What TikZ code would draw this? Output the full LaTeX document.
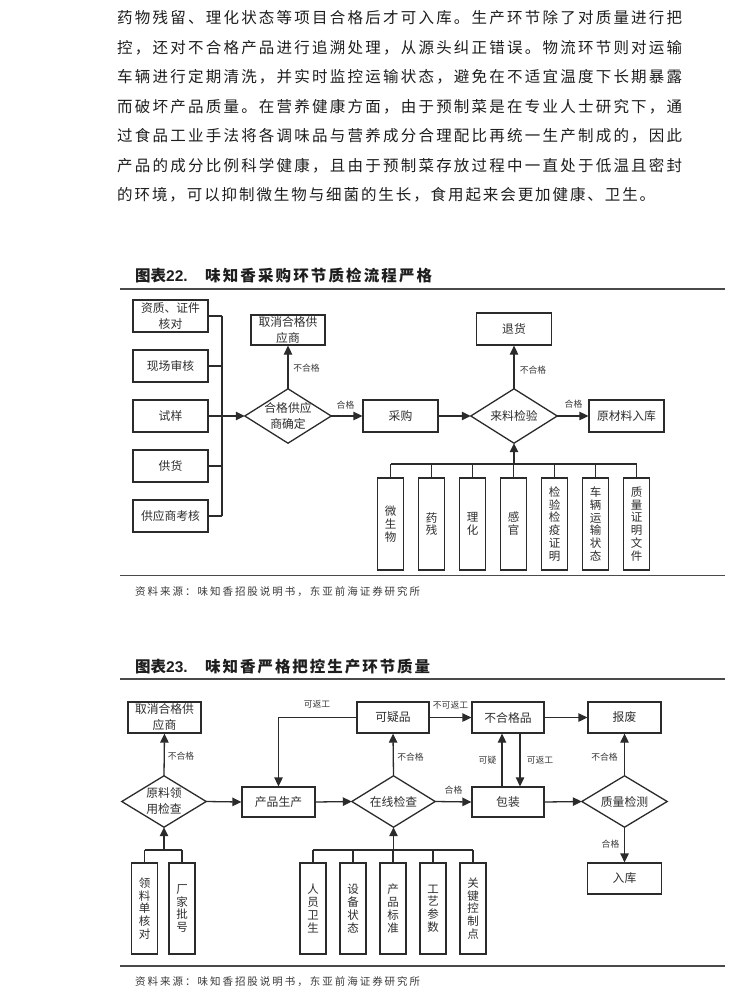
\documentclass[tikz,border=0pt]{standalone}
\usepackage{fontspec}
\setmainfont{Liberation Serif}
\newfontfamily\cjk{Noto Sans CJK SC}
\newfontfamily\latsans{Liberation Sans}
\usetikzlibrary{arrows.meta,calc}
\definecolor{lc}{HTML}{2B2B2B}
\definecolor{tc}{HTML}{2E2E2E}
\definecolor{labc}{HTML}{3A3A3A}
\definecolor{bodyc}{HTML}{1E1E1E}
\definecolor{rulec}{HTML}{4A4A4A}
\makeatletter
\def\spr@a#1{\ifx#1\relax\else\hfil#1\expandafter\spr@a\fi}
\def\spr@b#1{#1\spr@a}
\newcommand\spreadline[2]{\makebox[#1][s]{\spr@b#2\relax}}
\makeatother
\newcommand\mybodyfont{\cjk\fontsize{15.5}{18}\selectfont}
\newcommand\mytitlefont{\cjk\bfseries\fontsize{15.5}{18}\selectfont}
\newcommand\myboxfont{\cjk\fontsize{11.8}{16}\selectfont}
\newcommand\myvfont{\cjk\fontsize{11.5}{12.8}\selectfont}
\newcommand\mylabfont{\cjk\fontsize{8.8}{10}\selectfont}
\newcommand\mysrcfont{\cjk\fontsize{10.5}{12}\selectfont}
\tikzset{
  body/.style={inner sep=0pt, font=\mybodyfont, text=bodyc, anchor=west},
  box/.style={draw=lc, line width=1.3pt, fill=white, inner sep=0pt, font=\myboxfont, text=tc, align=center},
  vbox/.style={box, minimum width=26pt, minimum height=92pt, font=\myvfont},
  dtext/.style={inner sep=0pt, font=\myboxfont, text=tc, align=center},
  lab/.style={font=\mylabfont, text=labc, inner sep=0pt},
  ln/.style={draw=lc, line width=1.3pt},
  arr/.style={draw=lc, line width=1.3pt, -{Triangle[length=9pt,width=8.5pt]}},
  rulethick/.style={draw=rulec, line width=2pt},
  src/.style={inner sep=0pt, font=\mysrcfont, text=labc, anchor=west},
}
\begin{document}
\begin{tikzpicture}[x=1pt,y=-1pt]
\useasboundingbox (0,0) rectangle (751,1000);
\fill[white] (0,0) rectangle (751,1000);

% body text
\node[body] (t1) at (117,18) {\spreadline{565pt}{药物残留、理化状态等项目合格后才可入库。生产环节除了对质量进行把}};
\node[body] (t2) at (117,47.5) {\spreadline{565pt}{控，还对不合格产品进行追溯处理，从源头纠正错误。物流环节则对运输}};
\node[body] (t3) at (117,77) {\spreadline{565pt}{车辆进行定期清洗，并实时监控运输状态，避免在不适宜温度下长期暴露}};
\node[body] (t4) at (117,106.5) {\spreadline{565pt}{而破坏产品质量。在营养健康方面，由于预制菜是在专业人士研究下，通}};
\node[body] (t5) at (117,136) {\spreadline{565pt}{过食品工业手法将各调味品与营养成分合理配比再统一生产制成的，因此}};
\node[body] (t6) at (117,165.5) {\spreadline{565pt}{产品的成分比例科学健康，且由于预制菜存放过程中一直处于低温且密封}};
\node[body] (t7) at (117,195) {\spreadline{538pt}{的环境，可以抑制微生物与细菌的生长，食用起来会更加健康、卫生。}};

% ---------------- Figure 22 ----------------
\node[inner sep=0pt, anchor=west, text=bodyc] (ti22a) at (135,276) {\mytitlefont 图表{\latsans\bfseries\fontsize{15.5}{18}\selectfont 22.}};
\node[inner sep=0pt, anchor=west, text=bodyc] (ti22b) at (205,276) {\mytitlefont\spreadline{227pt}{味知香采购环节质检流程严格}};
\draw[rulethick] (120,288.5) -- (725,288.5);

\node[box, minimum width=75pt, minimum height=32pt] (b1) at (170.5,316) {资质、证件\\核对};
\node[box, minimum width=75pt, minimum height=32pt] (b2) at (170.5,366) {现场审核};
\node[box, minimum width=75pt, minimum height=32pt] (b3) at (170.5,416) {试样};
\node[box, minimum width=75pt, minimum height=32pt] (b4) at (170.5,466) {供货};
\node[box, minimum width=75pt, minimum height=32pt] (b5) at (170.5,516) {供应商考核};
\coordinate (bus) at (222,416);
\foreach \b in {b1,b2,b3,b4,b5} { \draw[ln] (\b.east) -- (\b.east -| bus); }
\draw[ln] (b1.east -| bus) -- (b5.east -| bus);

\node[dtext, minimum width=86pt, minimum height=54pt] (d1) at (288,416) {合格供应\\商确定};
\draw[ln] (d1.north) -- (d1.east) -- (d1.south) -- (d1.west) -- cycle;
\draw[arr] (bus) -- (d1.west);

\node[box, minimum width=74pt, minimum height=30pt] (c1) at (288,330) {取消合格供\\应商};
\draw[arr] (d1.north) -- (c1.south);
\node[lab] (l1) at (306.5,368) {不合格};

\node[box, minimum width=75pt, minimum height=32pt] (cg) at (400.5,416) {采购};
\draw[arr] (d1.east) -- (cg.west);
\node[lab] (l2) at (345.5,405) {合格};

\node[dtext, minimum width=86pt, minimum height=54pt] (d2) at (514,416) {来料检验};
\draw[ln] (d2.north) -- (d2.east) -- (d2.south) -- (d2.west) -- cycle;
\draw[arr] (cg.east) -- (d2.west);

\node[box, minimum width=75pt, minimum height=32pt] (th) at (514,329) {退货};
\draw[arr] (d2.north) -- (th.south);
\node[lab] (l3) at (533,370) {不合格};

\node[box, minimum width=75pt, minimum height=32pt] (yc) at (626.5,416) {原材料入库};
\draw[arr] (d2.east) -- (yc.west);
\node[lab] (l4) at (573.5,404) {合格};

\node[vbox] (m1) at (390.5,524) {微\\生\\物};
\node[vbox] (m2) at (431.5,524) {药\\残};
\node[vbox] (m3) at (472.5,524) {理\\化};
\node[vbox] (m4) at (513.5,524) {感\\官};
\node[vbox] (m5) at (554.5,524) {检\\验\\检\\疫\\证\\明};
\node[vbox] (m6) at (595.5,524) {车\\辆\\运\\输\\状\\态};
\node[vbox] (m7) at (636.5,524) {质\\量\\证\\明\\文\\件};
\coordinate (bus2) at (514,464);
\foreach \m in {m1,m2,m3,m4,m5,m6,m7} { \draw[ln] (\m.north) -- (\m.north |- bus2); }
\draw[ln] (m1.north |- bus2) -- (m7.north |- bus2);
\draw[arr] (bus2) -- (d2.south);

\draw[rulethick, line width=1.6pt] (120,575.5) -- (725,575.5);
\node[src] (s22) at (135,592) {\spreadline{285pt}{资料来源：味知香招股说明书，东亚前海证券研究所}};

% ---------------- Figure 23 ----------------
\node[inner sep=0pt, anchor=west, text=bodyc] (ti23a) at (135,667) {\mytitlefont 图表{\latsans\bfseries\fontsize{15.5}{18}\selectfont 23.}};
\node[inner sep=0pt, anchor=west, text=bodyc] (ti23b) at (205,667) {\mytitlefont\spreadline{225pt}{味知香严格把控生产环节质量}};
\draw[rulethick] (120,679) -- (725,679);

\node[box, minimum width=73pt, minimum height=31pt] (f1) at (164.5,717.5) {取消合格供\\应商};
\node[dtext, minimum width=84pt, minimum height=51pt] (e1) at (164,801.5) {原料领\\用检查};
\draw[ln] (e1.north) -- (e1.east) -- (e1.south) -- (e1.west) -- cycle;
\draw[arr] (e1.north) -- (f1.south);
\node[lab] (k1) at (181,756) {不合格};

\node[box, minimum width=73pt, minimum height=30pt] (p1) at (278.5,802) {产品生产};
\draw[arr] (e1.east) -- (p1.west);

\node[dtext, minimum width=83pt, minimum height=51pt] (e2) at (393.5,801.5) {在线检查};
\draw[ln] (e2.north) -- (e2.east) -- (e2.south) -- (e2.west) -- cycle;
\draw[arr] (p1.east) -- (e2.west);

\node[box, minimum width=72pt, minimum height=31pt] (q1) at (393,717.5) {可疑品};
\draw[arr] (e2.north) -- (q1.south);
\node[lab] (k2) at (410.5,757) {不合格};
\draw[arr] (q1.west) -- (p1.north |- q1.west) -- (p1.north);
\node[lab] (k3) at (317,704) {可返工};

\node[box, minimum width=72pt, minimum height=31pt] (n1) at (508,717.5) {不合格品};
\draw[arr] (q1.east) -- (n1.west);
\node[lab] (k4) at (450.5,705) {不可返工};

\node[box, minimum width=73pt, minimum height=31pt] (s1) at (624.5,717.5) {报废};
\draw[arr] (n1.east) -- (s1.west);

\node[box, minimum width=72pt, minimum height=30pt] (bz) at (508,802) {包装};
\draw[arr] (e2.east) -- (bz.west);
\node[lab] (k5) at (453.5,790) {合格};
\draw[arr] ($(bz.north)+(-6,0)$) -- ($(n1.south)+(-6,0)$);
\node[lab] (k6) at (487.5,760) {可疑};
\draw[arr] ($(n1.south)+(12,0)$) -- ($(bz.north)+(12,0)$);
\node[lab] (k7) at (540,760) {可返工};

\node[dtext, minimum width=85pt, minimum height=51pt] (e3) at (624.5,801.5) {质量检测};
\draw[ln] (e3.north) -- (e3.east) -- (e3.south) -- (e3.west) -- cycle;
\draw[arr] (bz.east) -- (e3.west);
\draw[arr] (e3.north) -- (s1.south);
\node[lab] (k8) at (604.5,757) {不合格};

\node[box, minimum width=74pt, minimum height=31pt] (rk) at (624.5,878.5) {入库};
\draw[arr] (e3.south) -- (rk.north);
\node[lab] (k9) at (610.5,844) {合格};

\node[vbox, minimum height=91pt] (v1) at (144.5,908.5) {领\\料\\单\\核\\对};
\node[vbox, minimum height=91pt] (v2) at (182,908.5) {厂\\家\\批\\号};
\coordinate (bus3) at (164,850);
\foreach \v in {v1,v2} { \draw[ln] (\v.north) -- (\v.north |- bus3); }
\draw[ln] (v1.north |- bus3) -- (v2.north |- bus3);
\draw[arr] (bus3) -- (e1.south);

\node[vbox, minimum height=91pt] (w1) at (313,908.5) {人\\员\\卫\\生};
\node[vbox, minimum height=91pt] (w2) at (353,908.5) {设\\备\\状\\态};
\node[vbox, minimum height=91pt] (w3) at (393,908.5) {产\\品\\标\\准};
\node[vbox, minimum height=91pt] (w4) at (433,908.5) {工\\艺\\参\\数};
\node[vbox, minimum height=91pt] (w5) at (473,908.5) {关\\键\\控\\制\\点};
\coordinate (bus4) at (393.5,850);
\foreach \w in {w1,w2,w3,w4,w5} { \draw[ln] (\w.north) -- (\w.north |- bus4); }
\draw[ln] (w1.north |- bus4) -- (w5.north |- bus4);
\draw[arr] (bus4) -- (e2.south);

\draw[rulethick, line width=1.6pt] (120,966) -- (725,966);
\node[src] (s23) at (135,982) {\spreadline{285pt}{资料来源：味知香招股说明书，东亚前海证券研究所}};
\end{tikzpicture}
\end{document}
